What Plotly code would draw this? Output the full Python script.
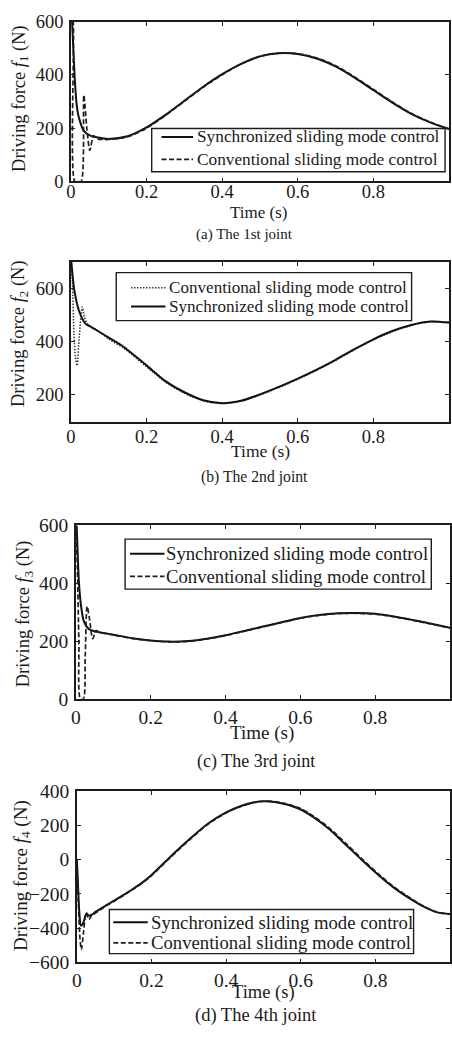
import plotly.graph_objects as go

W, H = 452, 1043

# ---------------- data ----------------
# (a) joint 1
t1_sync = [0, 0.003, 0.0095, 0.015, 0.021, 0.034, 0.051, 0.085, 0.1, 0.15, 0.2, 0.25, 0.3, 0.35, 0.4,
           0.45, 0.5, 0.55, 0.6, 0.65, 0.7, 0.75, 0.8, 0.85, 0.9, 0.95, 1.0]
f1_sync = [660, 600, 400, 290, 240, 190, 172, 162, 160, 170, 203, 250, 303, 356, 403,
           442, 470, 482, 479, 462, 432, 390, 343, 296, 254, 222, 197]
t1_conv = [0, 0.006, 0.01, 0.018, 0.027, 0.034, 0.042, 0.05, 0.06, 0.07, 0.1, 0.15, 0.2, 0.25, 0.3,
           0.35, 0.4, 0.45, 0.5, 0.55, 0.6, 0.65, 0.7, 0.75, 0.8, 0.85, 0.9, 0.95, 1.0]
f1_conv = [660, 600, 0, 0, 0, 324, 200, 117, 172, 160, 158, 168, 200, 248, 301,
           354, 401, 441, 470, 482, 480, 464, 435, 393, 346, 299, 256, 223, 197]

# (b) joint 2
t2_sync = [0, 0.001, 0.008, 0.021, 0.038, 0.05, 0.068, 0.1, 0.138, 0.2, 0.25, 0.3, 0.35, 0.4, 0.45,
           0.5, 0.55, 0.6, 0.65, 0.7, 0.75, 0.8, 0.85, 0.9, 0.95, 1.0]
f2_sync = [710, 700, 602, 517, 468, 458, 443, 415, 382, 311, 252, 210, 180, 169, 178,
           202, 230, 261, 295, 332, 372, 409, 440, 463, 476, 472]
t2_conv = [0, 0.004, 0.008, 0.012, 0.016, 0.022, 0.03, 0.036, 0.045, 0.06, 0.08, 0.1, 0.138, 0.2,
           0.25, 0.3, 0.35, 0.4, 0.45, 0.5, 0.55, 0.6, 0.65, 0.7, 0.75, 0.8, 0.85, 0.9, 0.95, 1.0]
f2_conv = [700, 620, 430, 340, 310, 420, 530, 490, 465, 450, 432, 410, 377, 306,
           248, 207, 178, 168, 177, 200, 228, 259, 293, 330, 370, 407, 438, 461, 475, 472]

# (c) joint 3
t3_sync = [0, 0.002, 0.008, 0.014, 0.021, 0.034, 0.05, 0.073, 0.1, 0.15, 0.2, 0.25, 0.3, 0.35, 0.4,
           0.45, 0.5, 0.55, 0.6, 0.65, 0.7, 0.75, 0.8, 0.85, 0.9, 0.95, 1.0]
f3_sync = [640, 600, 406, 320, 270, 242, 234, 228, 222, 210, 202, 198, 200, 208, 220,
           235, 250, 265, 280, 290, 296, 297, 294, 285, 273, 260, 246]
t3_conv = [0, 0.004, 0.008, 0.012, 0.02, 0.025, 0.03, 0.036, 0.045, 0.054, 0.065, 0.1, 0.15, 0.2,
           0.25, 0.3, 0.35, 0.4, 0.45, 0.5, 0.55, 0.6, 0.65, 0.7, 0.75, 0.8, 0.85, 0.9, 0.95, 1.0]
f3_conv = [620, 450, 200, 0, 0, 150, 320, 280, 208, 236, 230, 221, 209, 201,
           197, 199, 207, 219, 234, 249, 264, 279, 289, 295, 296, 293, 284, 272, 259, 245]

# (d) joint 4
t4_sync = [0, 0.003, 0.007, 0.011, 0.015, 0.02, 0.026, 0.032, 0.04, 0.05, 0.08, 0.1, 0.124, 0.15,
           0.176, 0.2, 0.25, 0.3, 0.35, 0.4, 0.44, 0.47, 0.5, 0.53, 0.56, 0.6, 0.632, 0.676, 0.72,
           0.764, 0.808, 0.852, 0.896, 0.931, 0.966, 1.0]
f4_sync = [0, -150, -320, -385, -380, -350, -315, -327, -322, -305, -265, -240, -208, -172,
           -133, -90, 15, 115, 207, 275, 312, 331, 340, 336, 322, 292, 250, 178, 88,
           -3, -90, -168, -232, -276, -308, -318]
t4_conv = [0, 0.004, 0.008, 0.012, 0.018, 0.025, 0.032, 0.04, 0.05, 0.08, 0.1, 0.124, 0.15,
           0.176, 0.2, 0.25, 0.3, 0.35, 0.4, 0.44, 0.47, 0.5, 0.53, 0.56, 0.6, 0.632, 0.676, 0.72,
           0.764, 0.808, 0.852, 0.896, 0.931, 0.966, 1.0]
f4_conv = [0, -250, -450, -525, -420, -310, -350, -325, -312, -268, -244, -211, -175,
           -136, -94, 11, 111, 204, 272, 310, 330, 340, 338, 326, 297, 256, 185, 96,
           4, -84, -163, -228, -274, -307, -318]

x_tickvals = [0, 0.2, 0.4, 0.6, 0.8, 1]
x_ticktext = ["0", "0.2", "0.4", "0.6", "0.8", "1"]
y_ticks = [[0, 200, 400, 600], [200, 400, 600], [0, 200, 400, 600], [-600, -400, -200, 0, 200, 400]]
y_ranges = [[0, 600], [100, 700], [0, 600], [-600, 400]]

sync_name = "Synchronized sliding mode control"
conv_name = "Conventional sliding mode control"
y_titles = ["Driving force <i>f</i><sub>1</sub> (N)", "Driving force <i>f</i><sub>2</sub> (N)",
            "Driving force <i>f</i><sub>3</sub> (N)", "Driving force <i>f</i><sub>4</sub> (N)"]
x_title = "Time (s)"
captions = ["(a) The 1st joint", "(b) The 2nd joint", "(c) The 3rd joint", "(d) The 4th joint"]

# ---------------- layout geometry (pixels) ----------------
FONT = "Liberation Serif, Times New Roman, serif"
TXT = "#1a1a1a"
INK = "#1c1c1c"
boxes = [(67, 451, 12, 175), (67, 451, 257, 420), (72, 452, 526, 703), (73, 452, 797, 972)]
tick_size = [18.5, 18.5, 19.5, 19.5]
x_standoff = [-7, -2, 0, -1]
ytitle_pos = [(15, 90), (15, 330), (20, 616), (17, 883)]
ytitle_size = [18.5, 18.5, 18.5, 19]
xtitle_pos = [(257, 207), (260, 450), (261, 738), (263, 1003)]
xtitle_size = [17, 17.5, 19, 18.5]
caption_pos = [(243, 229), (253, 477), (255, 767), (255, 1026)]
caption_size = [15, 15.7, 18, 18.5]
# legend boxes: left, right, top, bottom; row centres; sample x0, x1; text x; font size
legend_box = [(149, 447, 121, 165), (113, 413, 268, 317), (122, 433, 540, 591), (106, 415, 918, 963)]
legend_rows = [(129.5, 152.5), (283.5, 302.5), (555, 578), (931, 952)]
legend_sample = [(159, 191), (128, 163), (127, 162), (110, 145)]
legend_text_x = [195, 166.5, 163.5, 148.5]
legend_font = [17.3, 17.1, 18.7, 18.7]

def fx(p):
    return p / W

def fy(p):
    return 1 - p / H

DASH = {"solid": "solid", "dash": "5px,2.5px", "dot": "1.5px,1.5px"}
WIDTH = {"solid": 2.0, "dash": 1.7, "dot": 1.6}
COLOR = {"solid": "#111111", "dash": "#1e1e1e", "dot": "#3a3a3a"}

series = [
    [(t1_sync, f1_sync, sync_name, "solid"), (t1_conv, f1_conv, conv_name, "dash")],
    [(t2_conv, f2_conv, conv_name, "dot"), (t2_sync, f2_sync, sync_name, "solid")],
    [(t3_sync, f3_sync, sync_name, "solid"), (t3_conv, f3_conv, conv_name, "dash")],
    [(t4_sync, f4_sync, sync_name, "solid"), (t4_conv, f4_conv, conv_name, "dash")],
]

fig = go.Figure()
annotations = []
shapes = []
for i in range(4):
    n = "" if i == 0 else str(i + 1)
    xa, ya = "x" + n, "y" + n
    for t, f, name, style in series[i]:
        fig.add_trace(go.Scatter(
            x=t, y=f, mode="lines", name=name, xaxis=xa, yaxis=ya, showlegend=False,
            line=dict(color=COLOR[style], width=WIDTH[style], dash=DASH[style],
                      shape="spline", smoothing=0.8),
        ))
    l, r, tp, bt = boxes[i]
    ax_common = dict(showline=True, linecolor=INK, linewidth=1.5, mirror="ticks",
                     ticks="inside", ticklen=4, tickwidth=1.2, tickcolor=INK,
                     showgrid=False, zeroline=False,
                     tickfont=dict(family=FONT, size=tick_size[i], color=TXT))
    fig.update_layout(**{
        "xaxis" + n: dict(domain=[fx(l), fx(r)], range=[0, 1], anchor=ya,
                          tickvals=x_tickvals, ticktext=x_ticktext,
                          ticklabelstandoff=x_standoff[i], **ax_common),
        "yaxis" + n: dict(domain=[fy(bt), fy(tp)], range=y_ranges[i], anchor=xa,
                          tickvals=y_ticks[i], ticklabelstandoff=2, **ax_common),
    })

    # legend (box, line samples, labels)
    bl, br, btp, bbt = legend_box[i]
    shapes.append(dict(type="rect", xref="paper", yref="paper", x0=fx(bl), x1=fx(br),
                       y0=fy(bbt), y1=fy(btp), fillcolor="white",
                       line=dict(color=INK, width=1.4), layer="above"))
    for (t, f, name, style), ry in zip(series[i], legend_rows[i]):
        sx0, sx1 = legend_sample[i]
        shapes.append(dict(type="line", xref="paper", yref="paper", x0=fx(sx0), x1=fx(sx1),
                           y0=fy(ry), y1=fy(ry), layer="above",
                           line=dict(color=COLOR[style], width=WIDTH[style], dash=DASH[style])))
        annotations.append(dict(text=name, x=fx(legend_text_x[i] - 2), y=fy(ry), xref="paper",
                                yref="paper", showarrow=False, xanchor="left", yanchor="middle",
                                font=dict(family=FONT, size=legend_font[i], color=TXT)))

    annotations.append(dict(text=y_titles[i], x=fx(ytitle_pos[i][0]), y=fy(ytitle_pos[i][1]),
                            xref="paper", yref="paper", textangle=-90, showarrow=False,
                            xanchor="center", yanchor="middle",
                            font=dict(family=FONT, size=ytitle_size[i], color=TXT)))
    annotations.append(dict(text=x_title, x=fx(xtitle_pos[i][0]), y=fy(xtitle_pos[i][1]),
                            xref="paper", yref="paper", showarrow=False,
                            xanchor="center", yanchor="middle",
                            font=dict(family=FONT, size=xtitle_size[i], color=TXT)))
    annotations.append(dict(text=captions[i], x=fx(caption_pos[i][0]), y=fy(caption_pos[i][1]),
                            xref="paper", yref="paper", showarrow=False,
                            xanchor="center", yanchor="middle",
                            font=dict(family=FONT, size=caption_size[i], color=TXT)))

fig.update_layout(width=W, height=H, margin=dict(l=0, r=0, t=0, b=0),
                  paper_bgcolor="white", plot_bgcolor="white", showlegend=False,
                  annotations=annotations, shapes=shapes)

fig.write_html("out.html", config={"displayModeBar": False},
               post_script="document.body.style.margin='0';document.body.style.overflow='hidden';")
